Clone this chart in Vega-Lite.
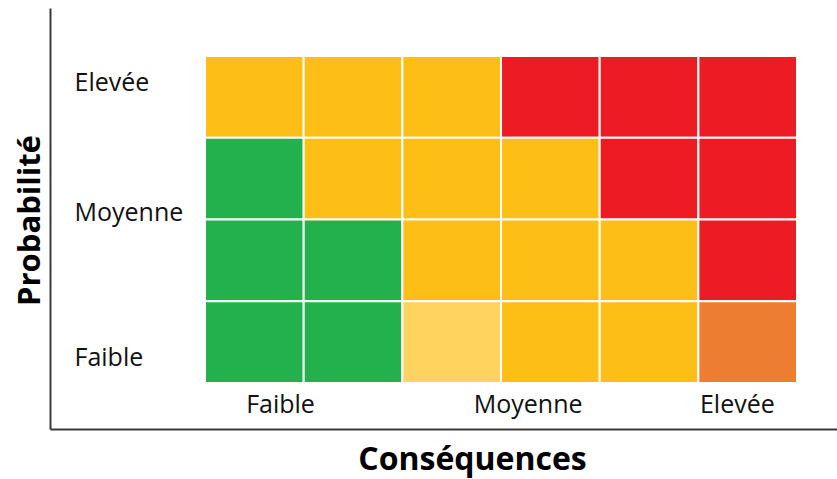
{
  "$schema": "https://vega.github.io/schema/vega-lite/v6.json",
  "width": 787,
  "height": 421,
  "autosize": {"type": "none"},
  "padding": {"left": 50, "top": 8, "right": 0, "bottom": 50},
  "background": "white",
  "view": {"stroke": null},
  "config": {
    "font": "Open Sans",
    "axis": {
      "grid": false,
      "ticks": false,
      "tickSize": 0,
      "domain": true,
      "domainColor": "#3a3a3a",
      "domainWidth": 2,
      "labelFont": "Open Sans",
      "labelFontSize": 25,
      "labelColor": "#111111",
      "titleFont": "Open Sans",
      "titleFontWeight": "bold",
      "titleColor": "#000000"
    }
  },
  "data": {
    "values": [
      {"c": 1, "p": 4, "niveau": "Moyen"},
      {"c": 2, "p": 4, "niveau": "Moyen"},
      {"c": 3, "p": 4, "niveau": "Moyen"},
      {"c": 4, "p": 4, "niveau": "Élevé"},
      {"c": 5, "p": 4, "niveau": "Élevé"},
      {"c": 6, "p": 4, "niveau": "Élevé"},
      {"c": 1, "p": 3, "niveau": "Faible"},
      {"c": 2, "p": 3, "niveau": "Moyen"},
      {"c": 3, "p": 3, "niveau": "Moyen"},
      {"c": 4, "p": 3, "niveau": "Moyen"},
      {"c": 5, "p": 3, "niveau": "Élevé"},
      {"c": 6, "p": 3, "niveau": "Élevé"},
      {"c": 1, "p": 2, "niveau": "Faible"},
      {"c": 2, "p": 2, "niveau": "Faible"},
      {"c": 3, "p": 2, "niveau": "Moyen"},
      {"c": 4, "p": 2, "niveau": "Moyen"},
      {"c": 5, "p": 2, "niveau": "Moyen"},
      {"c": 6, "p": 2, "niveau": "Élevé"},
      {"c": 1, "p": 1, "niveau": "Faible"},
      {"c": 2, "p": 1, "niveau": "Faible"},
      {"c": 3, "p": 1, "niveau": "Modéré"},
      {"c": 4, "p": 1, "niveau": "Moyen"},
      {"c": 5, "p": 1, "niveau": "Moyen"},
      {"c": 6, "p": 1, "niveau": "Important"}
    ]
  },
  "transform": [
    {"calculate": "datum.c - 1", "as": "c0"},
    {"calculate": "datum.p - 1", "as": "p0"}
  ],
  "mark": {"type": "rect", "stroke": "white", "strokeWidth": 2},
  "encoding": {
    "x": {
      "field": "c0",
      "type": "quantitative",
      "scale": {"domain": [-1.571, 6.405], "nice": false, "zero": false},
      "axis": {
        "orient": "bottom",
        "values": [0.76, 3.27, 5.39],
        "labelExpr": "datum.value < 2 ? 'Faible' : datum.value < 4 ? 'Moyenne' : 'Elevée'",
        "labelBaseline": "alphabetic",
        "labelPadding": -17,
        "title": "Conséquences",
        "titleFontSize": 32,
        "titleX": 422,
        "titleY": 40,
        "titleBaseline": "alphabetic",
        "titleAlign": "center"
      }
    },
    "x2": {"field": "c"},
    "y": {
      "field": "p0",
      "type": "quantitative",
      "scale": {"domain": [-0.563, 4.587], "nice": false, "zero": false},
      "axis": {
        "orient": "left",
        "values": [0.31, 2.08, 3.68],
        "labelExpr": "datum.value < 1 ? 'Faible' : datum.value < 3 ? 'Moyenne' : 'Elevée'",
        "labelAlign": "left",
        "labelBaseline": "middle",
        "labelPadding": -24,
        "title": "Probabilité",
        "titleFontSize": 31,
        "titleAngle": -90,
        "titleX": -20,
        "titleY": 212,
        "titleAlign": "center",
        "titleBaseline": "middle"
      }
    },
    "y2": {"field": "p"},
    "color": {
      "field": "niveau",
      "type": "nominal",
      "scale": {
        "domain": ["Faible", "Modéré", "Moyen", "Important", "Élevé"],
        "range": ["#22B14C", "#FED35E", "#FDBE15", "#ED7D31", "#ED1C24"]
      },
      "legend": null
    }
  }
}
